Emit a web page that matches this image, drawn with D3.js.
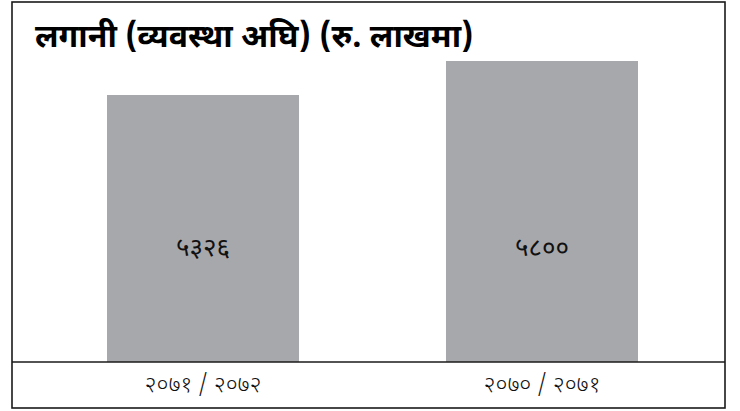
<!DOCTYPE html>
<html>
<head>
    <meta charset="utf-8" />
    <title>लगानी</title>
    <script src="https://d3js.org/d3.v7.min.js"></script>
    <style>
        body { margin: 0; background: #fff; }
        text { font-family: "Noto Sans Devanagari", "Noto Sans", "Lohit Devanagari", sans-serif; }
    </style>
</head>
<body>
    <svg class="chart"></svg>
    <script>
        var svgWidth = 740, svgHeight = 411;

        var categories = ["२०७१/२०७२", "२०७०/२०७१"];
        var values = [5326, 5800];
        var title = "लगानी (व्यवस्था अघि) (रु. लाखमा)";

        var box = {left: 12, top: 2, right: 725, bottom: 408};
        var baseY = 362;

        var devDigits = "०१२३४५६७८९";
        var toDev = n => String(n).replace(/[0-9]/g, d => devDigits[+d]);

        var chart = d3.select(".chart")
            .attr("width", svgWidth)
            .attr("height", svgHeight);

        var xScale = d3.scaleBand()
            .domain(categories)
            .range([107, 638])
            .paddingInner(0.4336)
            .paddingOuter(0);

        var yScale = d3.scaleLinear()
            .domain([1604, 5800])
            .range([baseY, 61]);

        // bars
        chart.selectAll(".bar")
            .data(values).enter().append("rect")
                .attr("class", "bar")
                .attr("x", (d, i) => xScale(categories[i]))
                .attr("y", d => yScale(d))
                .attr("width", xScale.bandwidth())
                .attr("height", d => baseY - yScale(d))
                .attr("fill", "#a7a8ab");

        // value labels
        chart.selectAll(".val")
            .data(values).enter().append("text")
                .attr("class", "val")
                .attr("x", (d, i) => xScale(categories[i]) + xScale.bandwidth() / 2)
                .attr("y", 256)
                .attr("text-anchor", "middle")
                .attr("font-size", 26)
                .attr("fill", "#111")
                .text(d => toDev(d));

        // baseline
        chart.append("line")
            .attr("x1", box.left).attr("x2", box.right)
            .attr("y1", baseY).attr("y2", baseY)
            .attr("stroke", "#1a1a1a").attr("stroke-width", 1.6);

        // x axis labels
        var xAxis = d3.axisBottom(xScale).tickSize(0).tickPadding(0)
            .tickFormat(d => d.replace("/", " / "));
        var ax = chart.append("g")
            .attr("transform", "translate(0," + baseY + ")")
            .call(xAxis);
        ax.select(".domain").remove();
        ax.selectAll("text")
            .attr("y", 30)
            .attr("dy", 0)
            .attr("font-size", 23)
            .attr("font-weight", 300)
            .attr("fill", "#111")
            .style("font-family", null);

        // title
        chart.append("text")
            .attr("x", 35)
            .attr("y", 47)
            .attr("font-size", 32)
            .attr("font-weight", "bold")
            .attr("fill", "#000")
            .text(title);

        // frame
        chart.append("rect")
            .attr("x", box.left).attr("y", box.top)
            .attr("width", box.right - box.left)
            .attr("height", box.bottom - box.top)
            .attr("fill", "none")
            .attr("stroke", "#1a1a1a")
            .attr("stroke-width", 1.6);
    </script>
</body>
</html>
